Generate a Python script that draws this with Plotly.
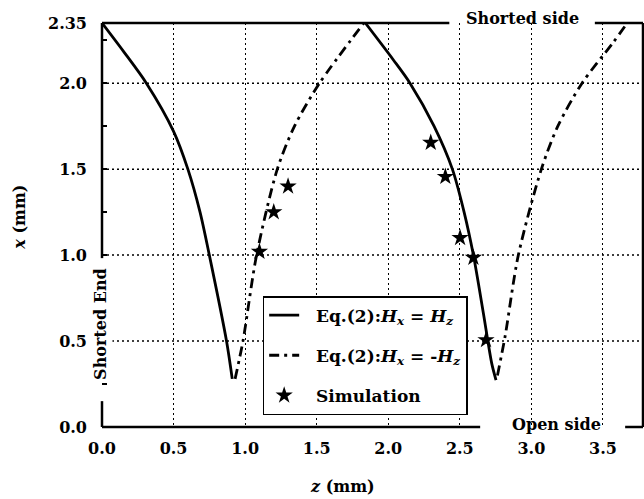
import plotly.graph_objects as go

# Eq.(2): Hx = Hz  (two solid branches)
solid1_z = [0.0, 0.15, 0.31, 0.50, 0.60, 0.685, 0.75, 0.87, 0.91]
solid1_x = [2.35, 2.185, 2.00, 1.72, 1.50, 1.25, 1.00, 0.50, 0.28]
solid2_z = [1.84, 2.036, 2.152, 2.32, 2.448, 2.53, 2.595, 2.665, 2.723, 2.753]
solid2_x = [2.35, 2.135, 2.00, 1.75, 1.50, 1.25, 1.00, 0.66, 0.37, 0.273]

# Eq.(2): Hx = -Hz  (two dash-dot branches)
dd1_z = [0.93, 0.985, 1.08, 1.225, 1.345, 1.52, 1.83]
dd1_x = [0.28, 0.50, 1.00, 1.50, 1.75, 2.00, 2.35]
dd2_z = [2.763, 2.816, 2.909, 3.07, 3.185, 3.354, 3.57, 3.67]
dd2_x = [0.30, 0.525, 1.00, 1.50, 1.75, 2.00, 2.235, 2.35]

# Simulation
sim_z = [1.10, 1.20, 1.30, 2.297, 2.399, 2.502, 2.595, 2.683]
sim_x = [1.02, 1.25, 1.40, 1.654, 1.456, 1.10, 0.985, 0.506]

xtick_vals = [0.0, 0.5, 1.0, 1.5, 2.0, 2.5, 3.0, 3.5]
xtick_text = ["0.0", "0.5", "1.0", "1.5", "2.0", "2.5", "3.0", "3.5"]
ytick_vals = [0.0, 0.5, 1.0, 1.5, 2.0, 2.35]
ytick_text = ["0.0", "0.5", "1.0", "1.5", "2.0", "2.35"]
yminor_vals = [0.25, 0.75, 1.25, 1.75, 2.25]
xgrid_vals = [0.5, 1.0, 1.5, 2.0, 2.5, 3.0, 3.5]
ygrid_vals = [0.5, 1.0, 1.5, 2.0]

FONT = "DejaVu Serif"
LW = 2.8
DASHDOT = "10px,5px,3px,5px"
SPL = dict(shape="spline", smoothing=0.8)
PAD = "&nbsp;&nbsp;"

fig = go.Figure()
fig.add_trace(go.Scatter(x=solid1_z, y=solid1_x, mode="lines", line=dict(color="black", width=LW, **SPL),
                         name=PAD + "Eq.(2):<i>H<sub>x</sub></i> = <i>H<sub>z</sub></i>", legendgroup="a"))
fig.add_trace(go.Scatter(x=solid2_z, y=solid2_x, mode="lines", line=dict(color="black", width=LW, **SPL),
                         showlegend=False, legendgroup="a"))
fig.add_trace(go.Scatter(x=dd1_z, y=dd1_x, mode="lines", line=dict(color="black", width=LW, dash=DASHDOT, **SPL),
                         name=PAD + "Eq.(2):<i>H<sub>x</sub></i> = -<i>H<sub>z</sub></i>", legendgroup="b"))
fig.add_trace(go.Scatter(x=dd2_z, y=dd2_x, mode="lines", line=dict(color="black", width=LW, dash=DASHDOT, **SPL),
                         showlegend=False, legendgroup="b"))
fig.add_trace(go.Scatter(x=sim_z, y=sim_x, mode="markers", marker=dict(symbol="star", size=13, color="black"),
                         name=PAD + "Simulation", legendgroup="c"))

GRID = dict(gridcolor="black", gridwidth=1.2, griddash="2px,3px")
tfont = dict(family=FONT, size=16, color="black", weight="bold")

fig.update_layout(
    xaxis=dict(range=[0, 3.78], tickvals=xtick_vals, ticktext=xtick_text, showgrid=False, zeroline=False,
               showline=False, ticks="", ticklabelstandoff=10, tickfont=tfont,
               minor=dict(tickmode="array", tickvals=xgrid_vals, showgrid=True, ticks="", **GRID)),
    yaxis=dict(range=[0, 2.35], tickvals=ytick_vals, ticktext=ytick_text, showgrid=False, zeroline=False,
               showline=False, ticks="inside", ticklen=5, tickwidth=2, tickcolor="black",
               ticklabelstandoff=14, tickfont=tfont,
               minor=dict(tickmode="array", tickvals=yminor_vals, ticks="inside", ticklen=5, tickwidth=2,
                          tickcolor="black", showgrid=False)),
)

# Horizontal dotted grid lines at the labelled x values
for gv in ygrid_vals:
    fig.add_shape(type="line", xref="paper", yref="y", x0=0, x1=1, y0=gv, y1=gv,
                  line=dict(color="black", width=1.5, dash="2px,3px"), layer="above")

# Border line segments (paper coords), with gaps for labels
segs = [
    (0, 1, 0.642, 1), (0.911, 1, 1, 1),          # top
    (0, 0, 0.699, 0), (0.967, 0, 1, 0),          # bottom
    (0, 1, 0, 0.418), (0, 0.064, 0, 0),          # left
    (1, 0, 1, 1),                                 # right
]
for x0, y0, x1, y1 in segs:
    fig.add_shape(type="line", xref="paper", yref="paper", x0=x0, y0=y0, x1=x1, y1=y1,
                  line=dict(color="black", width=2.5), layer="above")

afont = dict(family=FONT, size=16, color="black", weight="bold")
fig.add_annotation(text="Shorted side", xref="paper", yref="paper", x=0.778, y=1.012, showarrow=False,
                   font=afont, xanchor="center", yanchor="middle")
fig.add_annotation(text="Open side", xref="paper", yref="paper", x=0.841, y=0.005, showarrow=False,
                   font=afont, xanchor="center", yanchor="middle")
fig.add_annotation(text="Shorted End", xref="paper", yref="paper", x=-0.002, y=0.255, showarrow=False,
                   font=afont, xanchor="center", yanchor="middle", textangle=-90, bgcolor="white", borderpad=2)
fig.add_annotation(text="<i>x</i> (mm)", xref="paper", yref="paper", x=-0.152, y=0.52, showarrow=False,
                   font=afont, xanchor="center", yanchor="middle", textangle=-90)
fig.add_annotation(text="<i>z</i> (mm)", xref="paper", yref="paper", x=0.444, y=-0.148, showarrow=False,
                   font=afont, xanchor="center", yanchor="middle")

fig.update_layout(
    width=644, height=499,
    margin=dict(l=102, r=1, t=23, b=72),
    plot_bgcolor="white", paper_bgcolor="white",
    showlegend=True,
    legend=dict(x=0.297, y=0.324, xanchor="left", yanchor="top", bgcolor="white",
                bordercolor="black", borderwidth=1.5, tracegroupgap=15, traceorder="grouped",
                font=dict(family=FONT, size=17, color="black", weight="bold")),
)

fig.write_html("out.html")
